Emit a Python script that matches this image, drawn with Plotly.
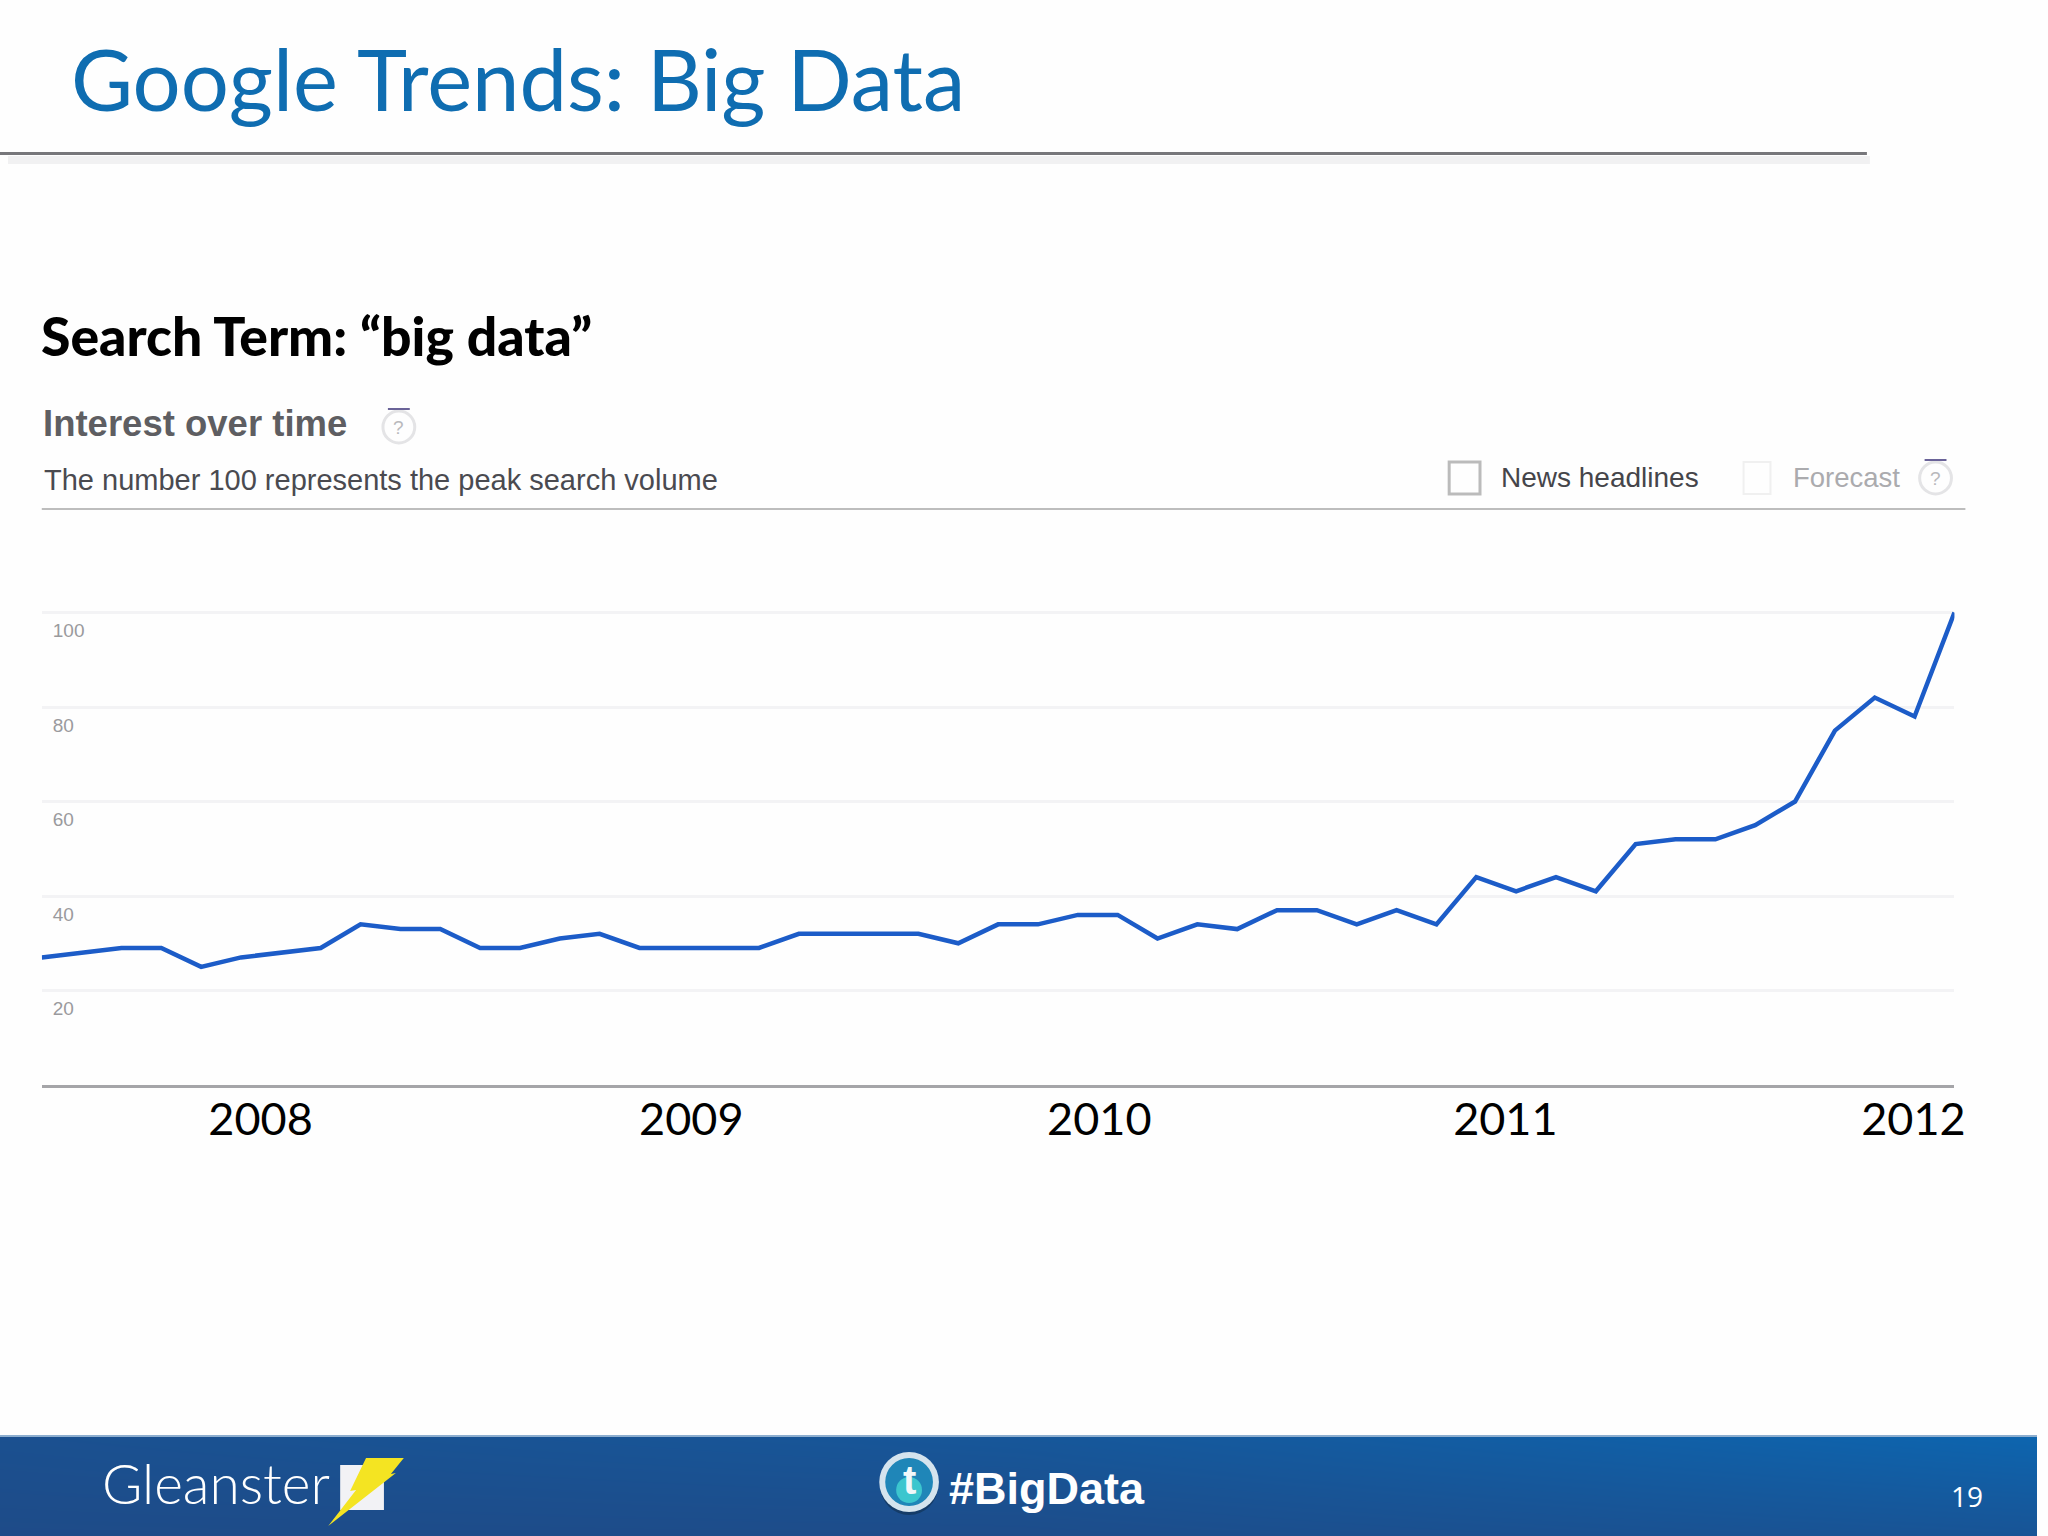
import plotly.graph_objects as go

W = 2048
H = 1536

# interest values, one per sample
interest = [27, 28, 29, 29, 25, 27, 28, 29, 34, 33, 33, 29, 29, 31, 32, 29, 29, 29, 29,
            32, 32, 32, 32, 30, 34, 34, 36, 36, 31, 34, 33, 37, 37, 34, 37, 34, 44, 41,
            44, 41, 51, 52, 52, 55, 60, 75, 82, 78, 100]
sample = list(range(len(interest)))

y_ticks = [20, 40, 60, 80, 100]
year_labels = ['2008', '2009', '2010', '2011', '2012']
year_pos = [5.49, 16.3, 26.54, 36.73, 46.97]

footer_z = [[0.0, 0.05, 0.35], [0.2, 0.45, 1.0]]


def px(x):
    return x / W


def py(y):
    return 1 - y / H


def rect(x0, y0, x1, y1, fill='rgba(0,0,0,0)', line=None, width=0):
    return dict(type='rect', xref='paper', yref='paper',
                x0=px(x0), x1=px(x1), y0=py(y1), y1=py(y0),
                fillcolor=fill, line=dict(color=line, width=width), layer='above')


def circle(cx, cy, r, fill='rgba(0,0,0,0)', line=None, width=0):
    return dict(type='circle', xref='paper', yref='paper',
                x0=px(cx - r), x1=px(cx + r), y0=py(cy + r), y1=py(cy - r),
                fillcolor=fill, line=dict(color=line, width=width), layer='above')


def poly(points, fill):
    # paper coordinates, so the path stays put whatever the axes do
    path = 'M ' + ' L '.join('%.5f %.5f' % (px(x), py(y)) for x, y in points) + ' Z'
    return dict(type='path', xref='paper', yref='paper', path=path,
                fillcolor=fill, line=dict(width=0), layer='above')


def label(text, x, y, size, color, family='Liberation Sans', anchor='left'):
    return dict(text=text, x=px(x), y=py(y), xref='paper', yref='paper',
                xanchor=anchor, yanchor='middle', showarrow=False,
                font=dict(size=size, color=color, family=family))


def help_icon(cx, cy):
    return [circle(cx, cy, 16, line='#E4E4E6', width=3),
            rect(cx - 11, cy - 19, cx + 11, cy - 17, fill='#6A6398')]


fig = go.Figure()

fig.add_trace(go.Heatmap(z=footer_z, x=[0, 0.5, 1], y=[0, 1], xaxis='x2', yaxis='y2',
                         zsmooth='best', showscale=False, hoverinfo='skip',
                         colorscale=[[0, '#1E4B88'], [1, '#0D65AF']], zmin=0, zmax=1))

fig.add_trace(go.Scatter(x=sample, y=interest, mode='lines', cliponaxis=False,
                         line=dict(color='#1C5CC8', width=4.5), hoverinfo='skip'))

shapes = [
    rect(8, 156, 1880, 164, fill='#F1F1F2'),
    rect(0, 152, 1877, 155, fill='#77777B'),
    rect(42, 508, 1976, 510, fill='#BDBDBD'),
    rect(1457, 462, 1488, 494, line='#BBBBBB', width=3),
    rect(1753, 462, 1780, 494, line='#F0F0F0', width=2),
    rect(0, 1435, W, 1437, fill='#8DAECF'),
    # logo
    rect(342, 1465, 386, 1510, fill='#F2F2F5'),
    poly([(368, 1458), (406, 1458), (393, 1474), (398, 1473), (330, 1526),
          (358, 1490), (352, 1491)], '#F4E422'),
    # twitter badge
    circle(914, 1486, 29, fill='#153C68'),
    circle(914, 1482, 30, fill='#D5E4EE'),
    circle(914, 1482, 24, fill='#1F86B8'),
    circle(914, 1490, 13, fill='#3CC6CE'),
]
shapes += help_icon(401, 427)
shapes += help_icon(1946, 478)

annotations = [
    label('Google Trends: Big Data', 69, 78, 85, '#0F6DB1', 'Lato'),
    label('Search Term: “big data”', 39, 335, 53.5, '#000000', 'Lato Black'),
    label('<b>Interest over time</b>', 41, 423, 36.5, '#5E5E62'),
    label('The number 100 represents the peak search volume', 42, 480, 29, '#4A4A50'),
    label('News headlines', 1507, 477, 28, '#45454A'),
    label('Forecast', 1801, 477, 27.5, '#ABABAE'),
    label('?', 401, 428, 19, '#B9B9BC', anchor='center'),
    label('?', 1946, 478, 19, '#B9B9BC', anchor='center'),
    label('Gleanster', 101, 1483, 55, '#FFFFFF', 'Lato Light'),
    label('<b>t</b>', 914, 1480, 40, '#F2F8FA', 'Liberation Sans', anchor='center'),
    label('<b>#BigData</b>', 952, 1488, 45, '#FFFFFF'),
    label('19', 1960, 1496, 28, '#FFFFFF', 'Open Sans'),
]

fig.update_layout(
    width=W, height=H, autosize=False,
    margin=dict(l=0, r=0, t=0, b=0),
    paper_bgcolor='#FEFEFE', plot_bgcolor='rgba(0,0,0,0)',
    showlegend=False,
    shapes=shapes,
    annotations=annotations,
    xaxis=dict(domain=[px(42), px(1965)], range=[0, 48], tickmode='array',
               tickvals=year_pos, ticktext=year_labels, showgrid=False, zeroline=False,
               showline=True, linecolor='#A5A5A8', linewidth=3, ticks='',
               ticklabelstandoff=-7,
               tickfont=dict(family='Lato', size=45, color='#000000')),
    yaxis=dict(domain=[py(1085), py(588.9)], range=[0, 105], tickmode='array',
               tickvals=y_ticks, showgrid=True, gridcolor='#F3F3F5', gridwidth=3,
               zeroline=False, showline=False, ticks='', ticklabelposition='inside',
               ticklabelstandoff=8, ticklabelshift=18,
               tickfont=dict(family='Liberation Sans', size=19, color='#9A9A9D')),
    xaxis2=dict(domain=[0, 1], range=[0, 1], visible=False, anchor='y2', fixedrange=True),
    yaxis2=dict(domain=[0, py(1436)], range=[0, 1], visible=False, anchor='x2', fixedrange=True),
)

fig.write_html('out.html', config={'displayModeBar': False},
               post_script="document.body.style.margin='0';document.documentElement.style.overflow='hidden';")
